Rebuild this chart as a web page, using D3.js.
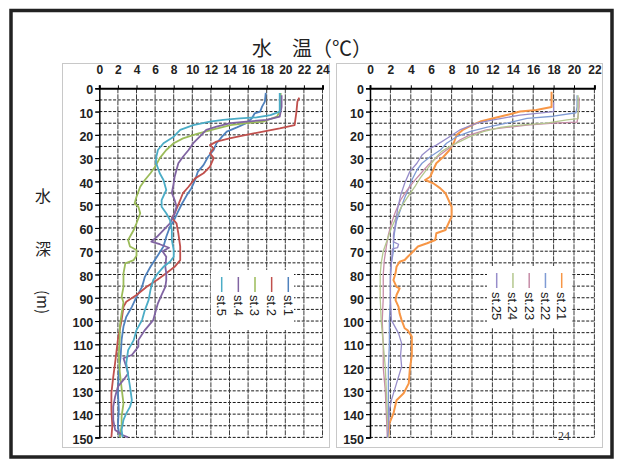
<!DOCTYPE html>
<meta charset="utf-8" />
<script src="https://d3js.org/d3.v7.min.js"></script>
<style>
  body { margin: 0; background: #fff; }
  svg { display: block; }
</style>
<div id="my_dataviz"></div>
<script>
  // profiles: [temperature °C, depth m]
  const st1 = [[17.9,2],[17.8,5.7],[17.5,7.9],[17.3,10],[16.7,10.8],[16.4,12.9],[15.8,15],[14.8,16.8],[13.7,18.6],[13.2,20.8],[12.6,23.6],[12.3,26.5],[11.7,29.4],[11.2,33],[10.6,35.8],[10.3,39.4],[9.9,43],[9.4,46],[8.9,49.5],[8.4,53.5],[8.0,57],[7.6,59.5],[7.2,63.8],[6.9,68],[6.2,72.4],[5.5,76.7],[4.9,81],[4.6,85.3],[4.0,89.6],[3.5,93.9],[2.9,98.2],[2.6,102.4],[2.4,108],[2.3,115],[2.1,122],[2.0,130],[2.1,138],[2.0,145],[2.2,150]];
  const st2 = [[21.5,4],[21.3,5.7],[21.2,10],[21.0,15.8],[19.4,17.2],[17.6,18.6],[15.8,20],[14.0,21.5],[12.6,22.9],[11.9,24.4],[12.3,25.8],[11.9,27.9],[12.3,30],[11.9,33.7],[11.2,36.5],[10.3,38.7],[9.6,42.3],[9.0,45],[8.6,49],[8.1,53.7],[7.8,55.7],[8.3,58],[8.5,62.3],[8.7,68],[8.7,73.8],[8.1,76.7],[7.2,79.5],[6.2,82.4],[5.1,85.3],[4.0,88.8],[2.9,91.7],[2.6,93.9],[2.4,99.6],[2.0,108],[1.7,118],[1.5,124],[1.3,131],[1.3,138],[1.4,145],[1.3,150]];
  const st3 = [[19.5,2],[19.5,5],[19.4,10],[19.1,12.2],[17.6,14.3],[15.8,15],[14.1,15.8],[12.3,17.6],[10.5,19.6],[9.0,21.5],[8.0,23.6],[7.2,26.5],[6.5,30],[6.0,33.7],[5.5,36.5],[4.9,39.4],[4.4,42.3],[4.0,46.6],[3.8,49.4],[4.2,50.9],[4.4,53.7],[4.0,58],[3.7,60.9],[3.1,65.2],[3.3,68],[4.0,69.5],[4.0,72],[3.7,73.8],[2.8,75.2],[2.6,79.5],[2.6,85.3],[2.4,89.6],[2.6,92],[2.4,96.7],[2.2,102.4],[2.2,107],[2.1,114.6],[2.2,121.8],[2.4,128.9],[2.6,135.4],[2.4,141],[2.4,145],[2.2,150]];
  const st4 = [[19.6,3],[19.6,8],[19.4,12.2],[18.0,13.6],[15.8,14.3],[14.1,15],[12.6,16.5],[11.5,17.9],[10.8,20.8],[10.1,23.6],[9.6,26.5],[9.0,29.4],[8.5,32.2],[8.3,35.1],[8.1,38],[8.0,40.8],[7.8,45],[8.1,48],[8.3,50.9],[8.1,53.7],[7.6,58],[6.9,60.9],[6.2,63.8],[5.6,65.9],[6.5,67],[7.5,68.5],[6.8,70],[7.2,72.4],[7.1,76.7],[7.2,79.5],[7.2,82.4],[7.1,85.3],[6.7,88.8],[6.3,92.4],[6.0,96.7],[5.8,99.6],[4.9,103.9],[4.2,108.2],[4.2,111],[3.5,114.6],[2.6,116],[2.9,119.6],[3.1,122.5],[2.6,125.3],[2.0,128.2],[1.7,132.5],[1.5,136.8],[1.5,142.5],[1.7,146.8],[2.5,149],[3.1,150]];
  const st5 = [[19.4,2],[19.4,5],[19.4,10],[18.4,11.5],[16.9,12.5],[15.1,12.9],[13.3,13.6],[11.9,14.3],[10.1,15.8],[8.7,17.9],[8.0,20.8],[6.9,23.6],[6.3,26.5],[6.1,30],[6.1,32],[6.5,36.5],[6.9,39.4],[7.2,43.7],[6.7,48],[6.7,50.9],[7.2,53.7],[7.6,56.6],[7.8,60.9],[7.8,65.2],[8.0,69.5],[8.0,72.4],[7.6,74.5],[6.9,76.7],[6.3,79.5],[5.8,82.4],[5.5,86.7],[5.3,91],[4.9,95.3],[4.6,99.6],[4.0,103.9],[3.7,108.2],[3.1,112.5],[2.9,118.2],[3.1,123.2],[3.3,128.2],[3.5,134],[3.3,136.9],[2.9,139.7],[2.6,142.5],[2.4,146.8],[2.5,150]];

  const st21 = [[17.8,1.5],[17.8,5],[17.8,8],[16.3,9.3],[14.7,10],[13.4,11.5],[12.1,12.9],[10.8,14.3],[10.0,15.8],[9.1,17.9],[8.5,20],[8.2,23.6],[7.8,26.5],[7.2,29.4],[6.5,32.2],[6.2,35.1],[5.9,38],[5.4,39.4],[6.2,40.8],[6.9,43],[7.4,45.1],[7.7,48],[8.0,50.9],[8.0,55.2],[7.7,58],[7.4,60.9],[6.5,62.3],[6.4,65.2],[5.6,66.6],[4.7,68],[4.2,70.2],[3.7,72.4],[3.4,73.8],[2.9,74.5],[2.6,76.7],[2.5,79.5],[2.3,82.4],[2.6,85.3],[2.9,86],[2.6,88.8],[2.5,91],[2.8,93.9],[2.9,96.7],[3.1,99.6],[3.4,103.1],[3.7,104],[4.1,106.7],[4.1,114.6],[3.9,121],[3.8,126.8],[3.3,131],[2.6,134],[2.3,139.7],[1.9,144],[1.8,150]];
  const st22 = [[20.3,3],[20.3,8],[20.2,10.5],[18.0,12],[15.4,12.9],[13.4,15],[11.4,16.8],[9.8,18.6],[8.5,20.8],[7.5,23.6],[6.9,26.5],[5.9,29.4],[5.1,32.2],[4.6,35.1],[4.1,39.4],[3.8,43],[3.4,47],[3.0,52],[2.6,57],[2.4,62],[2.3,66],[2.3,70],[2.1,75],[2.0,80],[2.0,90],[1.9,100],[1.9,110],[1.8,120],[1.8,130],[1.8,140],[1.8,150]];
  const st23 = [[20.5,4],[20.5,8],[20.4,12],[20.3,14.5],[18.0,15],[15.4,15.8],[13.4,16.8],[11.4,17.9],[9.8,20],[8.8,22.2],[8.2,24.4],[7.5,26.5],[6.6,29.5],[5.7,33],[5.0,36.5],[4.3,40],[3.6,44],[3.0,48],[2.5,53],[2.1,58],[1.8,63],[1.6,68],[1.4,74],[1.3,80],[1.3,90],[1.2,100],[1.3,110],[1.3,120],[1.5,130],[1.6,140],[1.7,150]];
  const st24 = [[20.4,3],[20.4,8],[20.4,13],[19.3,13.6],[17.3,15],[14.7,15.8],[12.8,16.8],[11.1,18.6],[9.8,20.8],[8.8,22.9],[7.8,25],[7.0,27.2],[6.4,30],[5.9,33],[5.4,35.8],[4.9,38.7],[4.4,42.3],[3.8,46],[3.2,50],[2.6,55],[2.1,60],[1.7,65],[1.3,70],[1.1,75],[1.0,80],[1.0,90],[1.1,100],[1.3,110],[1.5,120],[1.6,130],[1.7,140],[1.8,150]];
  const st25 = [[18.0,6],[18.0,10],[14.7,11.5],[12.1,13.6],[10.5,15],[8.8,17.9],[7.8,20.8],[6.5,24.4],[5.9,25.8],[5.1,28.7],[4.6,32.2],[3.9,35.8],[3.4,40.8],[3.0,46],[2.7,52],[2.5,58],[2.3,63],[2.3,66],[2.8,67],[2.7,68.5],[2.2,69],[2.1,75],[2.0,82],[2.0,90],[2.1,99.6],[2.8,105.3],[3.1,109.6],[3.0,114.6],[3.1,119.6],[2.6,126.8],[2.1,134],[1.9,138.2],[1.8,146.8],[1.7,150]];

  const leftNames = ['st.1', 'st.2', 'st.3', 'st.4', 'st.5'];
  const rightNames = ['st.21', 'st.22', 'st.23', 'st.24', 'st.25'];
  const leftColors = ['#4f81bd', '#c0504d', '#9bbb59', '#8064a2', '#4bacc6'];
  const rightColors = ['#f79646', '#7f9bd4', '#c68ca7', '#b4c78e', '#978dca'];
  const depthTicks = d3.range(0, 151, 10);
  const depthMinor = d3.range(0, 151, 5);
  const leftTempTicks = d3.range(0, 25, 2);
  const rightTempTicks = d3.range(0, 23, 2);

  const width = 621, height = 461;
  const labelFont = '"Liberation Sans", Arial, sans-serif';
  const jpFont = '"Noto Sans CJK JP", sans-serif';

  const svg = d3.select('#my_dataviz').append('svg')
    .attr('width', width).attr('height', height);

  svg.append('rect').attr('width', width).attr('height', height).attr('fill', '#fff');

  // outer frame
  svg.append('rect')
    .attr('x', 11).attr('y', 10.5).attr('width', 601).attr('height', 446.5)
    .attr('fill', 'none').attr('stroke', '#222').attr('stroke-width', 3.5);

  // title
  svg.append('text')
    .attr('x', 312).attr('y', 47)
    .attr('text-anchor', 'middle').attr('dominant-baseline', 'central')
    .style('font-family', jpFont).style('font-size', '20px').style('fill', '#222')
    .text('水　温（℃）');

  // vertical axis title
  svg.append('text').attr('x', 43).attr('y', 195)
    .attr('text-anchor', 'middle').attr('dominant-baseline', 'central')
    .style('font-family', jpFont).style('font-size', '16px').style('fill', '#222')
    .text('水');
  svg.append('text').attr('x', 43).attr('y', 248)
    .attr('text-anchor', 'middle').attr('dominant-baseline', 'central')
    .style('font-family', jpFont).style('font-size', '16px').style('fill', '#222')
    .text('深');
  svg.append('text')
    .attr('transform', 'translate(43,302) rotate(90)')
    .attr('text-anchor', 'middle').attr('dominant-baseline', 'central')
    .style('font-family', jpFont).style('font-size', '15px').style('fill', '#222')
    .text('(m)');

  function drawPanel(p) {
    const g = svg.append('g');

    // light panel box
    g.append('rect')
      .attr('x', p.box[0] + 0.5).attr('y', 63.5)
      .attr('width', p.box[1] - p.box[0]).attr('height', 384)
      .attr('fill', '#fff').attr('stroke', '#c8c8c8');

    const x = d3.scaleLinear().domain(p.tempDomain).range(p.xRange);
    const y = d3.scaleLinear().domain([0, 150]).range([88.3, 437.4]);

    // grid
    g.append('g').selectAll('line')
      .data(depthMinor.filter(d => d > 0))
      .join('line')
      .attr('x1', x(0)).attr('x2', x(p.tempDomain[1]))
      .attr('y1', d => y(d)).attr('y2', d => y(d))
      .attr('stroke', '#1a1a1a').attr('stroke-width', 1)
      .attr('stroke-dasharray', '3,1.6');
    g.append('g').selectAll('line')
      .data(p.tempTicks.filter(d => d > 0))
      .join('line')
      .attr('x1', d => x(d)).attr('x2', d => x(d))
      .attr('y1', y(0)).attr('y2', y(150))
      .attr('stroke', '#3a3a3a').attr('stroke-width', 1)
      .attr('stroke-dasharray', '5,1');

    // top axis
    const top = g.append('g')
      .attr('transform', `translate(0,${y(0)})`)
      .call(d3.axisTop(x).tickValues(p.tempTicks).tickSize(3).tickPadding(11).tickFormat(d3.format('d')));
    top.select('.domain').attr('stroke', '#000').attr('stroke-width', 2);

    // left axis
    g.append('g')
      .attr('transform', `translate(${x(0)},0)`)
      .call(d3.axisLeft(y).tickValues(depthMinor).tickSize(4).tickFormat(''))
      .select('.domain').attr('stroke', '#000').attr('stroke-width', 1.5);
    const left = g.append('g')
      .attr('transform', `translate(${x(0)},0)`)
      .call(d3.axisLeft(y).tickValues(depthTicks).tickSize(4).tickPadding(2).tickFormat(d3.format('d')));
    left.select('.domain').remove();
    left.selectAll('text').attr('dy', '0.45em').style('font-size', '12.5px');

    g.selectAll('.tick text')
      .style('font-family', labelFont)
      .style('font-weight', 'bold').style('fill', '#222');
    top.selectAll('text').style('font-size', '12px');
    g.selectAll('.tick line').attr('stroke', '#000');

    // profiles
    const line = d3.line().x(d => x(d[0])).y(d => y(d[1]));
    g.append('g').selectAll('path')
      .data(p.series)
      .join('path')
      .attr('d', d => line(d))
      .attr('fill', 'none')
      .attr('stroke', (d, i) => p.colors[i])
      .attr('stroke-width', (d, i) => p.widths[i])
      .attr('stroke-linejoin', 'round');

    // legend
    const lg = g.append('g');
    lg.append('rect')
      .attr('x', p.legend.box[0]).attr('y', p.legend.box[1])
      .attr('width', p.legend.box[2]).attr('height', p.legend.box[3])
      .attr('fill', '#fff');
    const item = lg.selectAll('g')
      .data(p.names)
      .join('g')
      .attr('transform', (d, i) => `translate(${p.legend.x0 - i * p.legend.step},0)`);
    item.append('line')
      .attr('y1', p.legend.lineY).attr('y2', p.legend.lineY + 15)
      .attr('stroke', (d, i) => p.colors[i]).attr('stroke-width', 1.5);
    item.append('text')
      .attr('transform', `translate(0,${p.legend.textY}) rotate(90)`)
      .attr('dy', '0.35em')
      .style('font-family', labelFont).style('font-size', '13px').style('fill', '#222')
      .text(d => d);

    return { x, y, g };
  }

  drawPanel({
    box: [62, 329],
    tempDomain: [0, 24],
    xRange: [99.3, 322.5],
    tempTicks: leftTempTicks,
    series: [st1, st2, st3, st4, st5],
    colors: leftColors,
    widths: [1.8, 1.8, 1.8, 1.8, 1.8],
    names: leftNames,
    legend: { box: [211, 270, 83, 60], x0: 288.3, step: 16.65, lineY: 277, textY: 295 }
  });

  const right = drawPanel({
    box: [336, 602],
    tempDomain: [0, 22],
    xRange: [370, 594.4],
    tempTicks: rightTempTicks,
    series: [st21, st22, st23, st24, st25],
    colors: rightColors,
    widths: [2, 1.3, 1.3, 1.3, 1.3],
    names: rightNames,
    legend: { box: [487, 266, 85, 62], x0: 561.7, step: 16.25, lineY: 273, textY: 292 }
  });

  // page number
  right.g.append('text')
    .attr('x', 564).attr('y', 436)
    .attr('text-anchor', 'middle').attr('dominant-baseline', 'central')
    .style('font-family', '"Liberation Serif", serif').style('font-size', '12px').style('fill', '#333')
    .text('24');
</script>
